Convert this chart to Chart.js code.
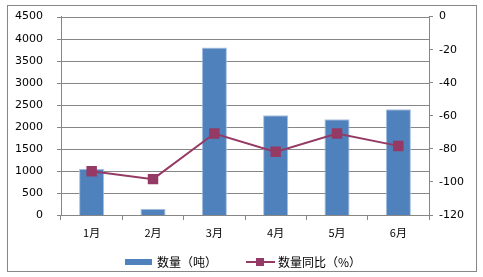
<!DOCTYPE html>
<html lang="zh">
<head>
    <meta charset="UTF-8">
    <title>数量</title>
    <style>
        html, body { margin: 0; padding: 0; background: #fff; }
        #wrap { width: 483px; height: 277px; position: relative; }
    </style>
</head>
<body>
    <div id="wrap"><canvas id="chart" width="483" height="277"></canvas></div>

    <script src="https://cdn.jsdelivr.net/npm/chart.js"></script>
    <script>
        const months = ['1月', '2月', '3月', '4月', '5月', '6月'];
        const qty = [1050, 140, 3800, 2260, 2170, 2400];
        const qtyYoY = [-93.5, -98.3, -70.7, -81.8, -70.7, -78.2];
        const leftTicks = [0, 500, 1000, 1500, 2000, 2500, 3000, 3500, 4000, 4500];
        const rightTicks = [0, -20, -40, -60, -80, -100, -120];

        const FONT = '"DejaVu Sans", "Noto Sans CJK SC", sans-serif';
        const CJK = '"Noto Sans CJK SC", sans-serif';
        const GRID = '#868686';

        // 横向网格线
        const gridPlugin = {
            id: 'hgrid',
            beforeDatasetsDraw(chart) {
                const ctx = chart.ctx;
                const a = chart.chartArea;
                const ys = chart.scales.y;
                ctx.save();
                ctx.strokeStyle = GRID;
                ctx.lineWidth = 1;
                leftTicks.forEach(v => {
                    const py = Math.round(ys.getPixelForValue(v)) + 0.5;
                    ctx.beginPath();
                    ctx.moveTo(a.left - 4, py);
                    ctx.lineTo(a.right, py);
                    ctx.stroke();
                });
                ctx.restore();
            }
        };

        // 外框 + 图例
        const framePlugin = {
            id: 'frame',
            afterDraw(chart) {
                const ctx = chart.ctx;
                ctx.save();
                ctx.strokeStyle = '#878787';
                ctx.lineWidth = 1;
                ctx.strokeRect(7.5, 5.5, 469, 266);

                const y = 262;
                ctx.fillStyle = '#4F81BD';
                ctx.fillRect(125, 259, 27, 6);
                ctx.fillStyle = '#000';
                ctx.font = '12px ' + CJK;
                ctx.textBaseline = 'middle';
                ctx.fillText('数量（吨）', 157, y);

                ctx.strokeStyle = '#953A64';
                ctx.lineWidth = 2;
                ctx.beginPath();
                ctx.moveTo(246, y);
                ctx.lineTo(275, y);
                ctx.stroke();
                ctx.fillStyle = '#953A64';
                ctx.fillRect(256, y - 4, 8, 8);
                ctx.fillStyle = '#000';
                ctx.fillText('数量同比（%）', 278, y);
                ctx.restore();
            }
        };

        new Chart(document.getElementById('chart'), {
            data: {
                labels: months,
                datasets: [
                    {
                        type: 'line',
                        label: '数量同比（%）',
                        data: qtyYoY,
                        yAxisID: 'y1',
                        borderColor: '#953A64',
                        backgroundColor: '#953A64',
                        borderWidth: 2,
                        pointStyle: 'rect',
                        pointRadius: 6,
                        pointHoverRadius: 6,
                        tension: 0,
                        order: 0
                    },
                    {
                        type: 'bar',
                        label: '数量（吨）',
                        data: qty,
                        yAxisID: 'y',
                        backgroundColor: '#4F81BD',
                        borderColor: '#A9C1E0',
                        borderWidth: 1,
                        barPercentage: 0.41,
                        categoryPercentage: 1,
                        order: 1
                    }
                ]
            },
            options: {
                responsive: false,
                animation: false,
                layout: { padding: { top: 16, left: 0, right: 0, bottom: 0 } },
                plugins: { legend: { display: false }, tooltip: { enabled: false } },
                scales: {
                    x: {
                        offset: true,
                        grid: { offset: true, drawOnChartArea: false, color: GRID, tickLength: 5 },
                        border: { color: GRID },
                        ticks: { color: '#000', font: { family: CJK, size: 11 }, padding: 6 },
                        afterFit(s) { s.height = 62; }
                    },
                    y: {
                        position: 'left',
                        min: 0,
                        max: 4500,
                        afterBuildTicks(s) { s.ticks = leftTicks.map(v => ({ value: v })); },
                        grid: { display: false },
                        border: { display: true, color: GRID },
                        ticks: { color: '#000', font: { family: FONT, size: 11 }, padding: 10, callback: v => String(v) },
                        afterFit(s) { s.width = 61; }
                    },
                    y1: {
                        position: 'right',
                        min: -120,
                        max: 0,
                        afterBuildTicks(s) { s.ticks = rightTicks.map(v => ({ value: v })); },
                        grid: { drawOnChartArea: false, color: GRID, tickLength: 4 },
                        border: { color: GRID },
                        ticks: { color: '#000', font: { family: FONT, size: 11 }, padding: 6, callback: v => String(v) },
                        afterFit(s) { s.width = 54; }
                    }
                }
            },
            plugins: [gridPlugin, framePlugin]
        });
    </script>
</body>
</html>
